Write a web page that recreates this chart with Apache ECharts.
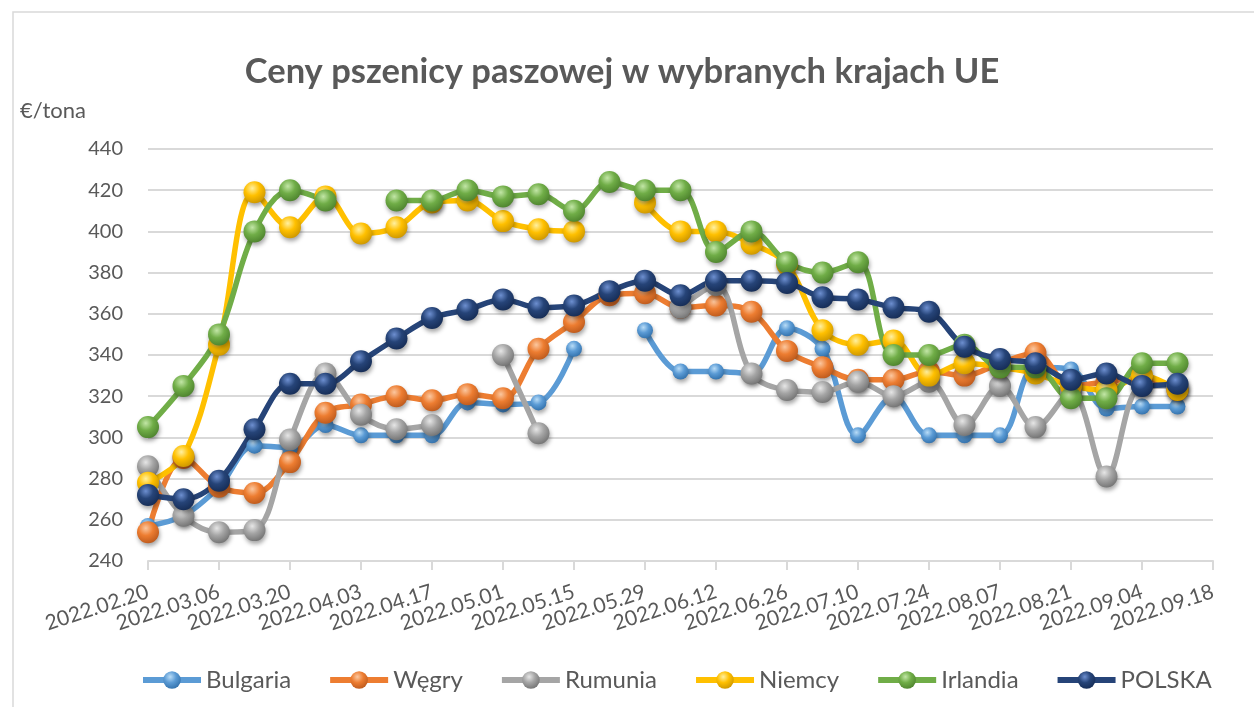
<!DOCTYPE html>
<html>
<head>
<meta charset="utf-8">
<script src="https://cdn.jsdelivr.net/npm/echarts@6/dist/echarts.min.js"></script>
<style>
html,body{margin:0;padding:0;background:#fff;}
#chart{width:1254px;height:707px;}
</style>
</head>
<body>
<div id="chart"></div>
<script>
const dates = ['2022.02.20','2022.02.27','2022.03.06','2022.03.13','2022.03.20','2022.03.27','2022.04.03','2022.04.10','2022.04.17','2022.04.24','2022.05.01','2022.05.08','2022.05.15','2022.05.22','2022.05.29','2022.06.05','2022.06.12','2022.06.19','2022.06.26','2022.07.03','2022.07.10','2022.07.17','2022.07.24','2022.07.31','2022.08.07','2022.08.14','2022.08.21','2022.08.28','2022.09.04','2022.09.11','2022.09.18'];
const bulgaria = [257,262,276,296,295,306,301,301,301,317,316,317,343,null,352,332,332,331,353,343,301,320,301,301,301,334,333,314,315,315,null];
const wegry    = [254,290,276,273,288,312,316,320,318,321,319,343,356,369,370,363,364,361,342,334,328,328,332,330,336,341,325,327,329,323,null];
const rumunia  = [286,262,254,255,299,331,311,304,306,null,340,302,null,null,null,363,374,331,323,322,327,320,327,306,325,305,322,281,325,325,null];
const niemcy   = [278,291,345,419,402,417,399,402,414,415,405,401,400,null,414,400,400,394,384,352,345,347,330,336,334,331,325,323,330,323,null];
const irlandia = [305,325,350,400,420,415,null,415,415,420,417,418,410,424,420,420,390,400,385,380,385,340,340,345,334,334,319,319,336,336,null];
const polska   = [272,270,279,304,326,326,337,348,358,362,367,363,364,371,376,369,376,376,375,368,367,363,361,344,338,336,328,331,325,326,null];

const names = ['Bulgaria','Węgry','Rumunia','Niemcy','Irlandia','POLSKA'];
const colors = ['#5B9BD5','#ED7D31','#A5A5A5','#FFC000','#70AD47','#264478'];
const lights = ['#b8dcf7','#fbc79f','#e6e6e6','#fff0a0','#c2e6a6','#6d8fd0'];
const darks  = ['#2e6da8','#b8561a','#6e6e6e','#c79200','#4a7f2b','#142a52'];
const values = [bulgaria, wegry, rumunia, niemcy, irlandia, polska];
const sizes = [16,22,22,22,22,22];

const TXT = '#595959';
const FONT = 'Lato, "Liberation Sans", sans-serif';

function sphere(i){
  return {type:'radial', x:0.4, y:0.32, r:0.75, colorStops:[
    {offset:0, color:lights[i]},
    {offset:0.45, color:colors[i]},
    {offset:1, color:darks[i]}
  ]};
}

const series = names.map((n,i)=>({
  name:n, type:'line', data:values[i], smooth:0.35, connectNulls:false,
  symbol:'circle', symbolSize:sizes[i], showSymbol:true,
  lineStyle:{color:colors[i], width:5.5},
  itemStyle:{color:sphere(i), borderWidth:0, shadowBlur:4, shadowOffsetY:3, shadowOffsetX:1, shadowColor:'rgba(0,0,0,0.35)'},
  emphasis:{disabled:true},
  animation:false
}));

const chart = echarts.init(document.getElementById('chart'), null, {renderer:'canvas'});
chart.setOption({
  backgroundColor:'#fff',
  animation:false,
  color:colors,
  textStyle:{fontFamily:FONT},
  grid:{left:148, right:41, top:149, bottom:146, containLabel:false},
  graphic:[
    {type:'rect', shape:{x:13, y:12, width:1400, height:900}, style:{fill:null, stroke:'#d9d9d9', lineWidth:1.5}, silent:true, z:-10},
    {type:'text', x:622, y:72, style:{text:'Ceny pszenicy paszowej w wybranych krajach UE', fill:TXT, font:'bold 34.5px '+FONT, align:'center', verticalAlign:'middle'}},
    {type:'text', x:20, y:111, style:{text:'€/tona', fill:TXT, font:'22px '+FONT, align:'left', verticalAlign:'middle'}}
  ],
  legend:{
    data:names, left:140, top:668, padding:0, itemWidth:58, itemHeight:22, itemGap:36,
    lineStyle:{width:6},
    textStyle:{color:TXT, fontSize:24, fontFamily:FONT}
  },
  xAxis:{
    type:'category', data:dates, boundaryGap:false,
    axisLine:{lineStyle:{color:'#d9d9d9', width:2}},
    axisTick:{show:true, interval:1, length:9, lineStyle:{color:'#d9d9d9', width:2}},
    axisLabel:{interval:1, rotate:18, margin:30, lineHeight:16, color:TXT, fontSize:21, fontFamily:FONT, showMinLabel:true, showMaxLabel:true, hideOverlap:false},
    splitLine:{show:false}
  },
  yAxis:{
    type:'value', min:240, max:440, interval:20,
    axisLine:{show:false}, axisTick:{show:false},
    axisLabel:{color:TXT, fontSize:20, margin:25, fontFamily:FONT},
    splitLine:{lineStyle:{color:'#d9d9d9', width:2}}
  },
  series:series
});
</script>
</body>
</html>
